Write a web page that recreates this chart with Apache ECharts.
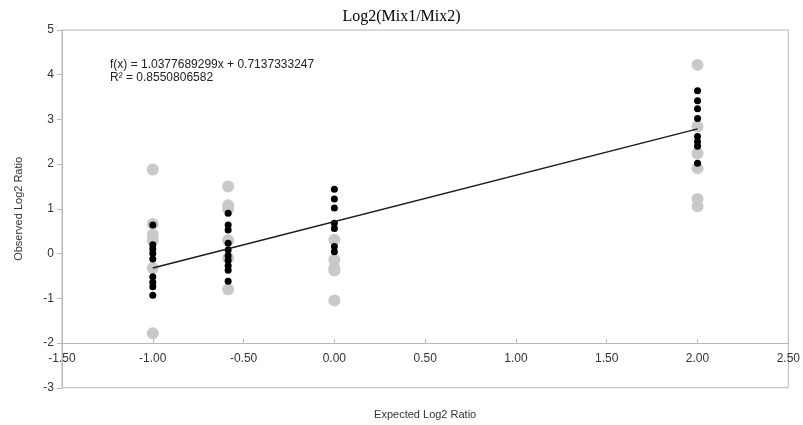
<!DOCTYPE html>
<html>
<head>
<meta charset="utf-8">
</head>
<body style="margin:0; background:#ffffff;">
<div id="container" style="width:803px; height:425px;"></div>
<script src="https://cdn.jsdelivr.net/npm/echarts@6/dist/echarts.min.js"></script>
<script>
// expected log2 ratio of each spike-in group
var expected = [-1.0, -0.585, 0.0, 2.0];
// observed log2 ratios, light grey points (one list per group)
var greyObs = [
    [1.88, 0.66, 0.42, 0.30, -0.32, -1.78],
    [1.50, 1.08, 1.00, 0.30, -0.10, -0.80],
    [0.31, -0.14, -0.33, -0.38, -1.05],
    [4.22, 2.84, 2.24, 1.91, 1.22, 1.06]
];
// observed log2 ratios, black points
var blackObs = [
    [0.64, 0.20, 0.10, 0.00, -0.12, -0.52, -0.64, -0.74, -0.93],
    [0.90, 0.64, 0.53, 0.23, 0.08, -0.05, -0.15, -0.27, -0.37, -0.62],
    [1.44, 1.22, 1.02, 0.68, 0.56, 0.16, 0.04],
    [3.64, 3.42, 3.24, 3.02, 2.62, 2.50, 2.40, 2.02]
];
// linear trend line
var slope = 1.0377689299;
var intercept = 0.7137333247;
var rSquared = '0.8550806582';
var trendRange = [-1.0, 2.0];

function toPoints(groups) {
    var pts = [];
    groups.forEach(function (ys, i) {
        ys.forEach(function (y) { pts.push([expected[i], y]); });
    });
    return pts;
}

var trendData = trendRange.map(function (x) { return [x, slope * x + intercept]; });

var chart = echarts.init(document.getElementById('container'), null, { renderer: 'canvas' });
var txt = '#333333';
var lineGrey = '#b8b8b8';

var option = {
    animation: false,
    title: {
        text: 'Log2(Mix1/Mix2)',
        left: 'center',
        top: 4,
        textStyle: { fontFamily: 'Liberation Serif', fontSize: 16, fontWeight: 'normal', color: '#000' }
    },
    graphic: [{
        type: 'text',
        left: 110,
        top: 58,
        style: {
            text: 'f(x) = ' + slope + 'x + ' + intercept + '\nR² = ' + rSquared,
            fontFamily: 'Liberation Sans',
            fontSize: 12,
            lineHeight: 13,
            fill: '#222'
        }
    }],
    grid: {
        left: 62, right: 12, top: 30, bottom: 37,
        show: true, borderColor: lineGrey, borderWidth: 1
    },
    xAxis: {
        type: 'value',
        min: -1.5, max: 2.5, interval: 0.5,
        offset: -44.75,
        name: 'Expected Log2 Ratio',
        nameLocation: 'middle',
        nameGap: 66,
        nameTextStyle: { fontFamily: 'Liberation Sans', fontSize: 11, color: txt },
        axisLine: { onZero: false, lineStyle: { color: lineGrey } },
        axisTick: { inside: true, length: 4, lineStyle: { color: lineGrey } },
        axisLabel: {
            fontFamily: 'Liberation Sans', fontSize: 12, color: txt, margin: 10,
            formatter: function (v) { return v.toFixed(2); }
        },
        splitLine: { show: false }
    },
    yAxis: {
        type: 'value',
        min: -3, max: 5, interval: 1,
        name: 'Observed Log2 Ratio',
        nameLocation: 'middle',
        nameGap: 38,
        nameTextStyle: { fontFamily: 'Liberation Sans', fontSize: 11, color: txt },
        axisLine: { show: true, onZero: false, lineStyle: { color: lineGrey } },
        axisTick: { show: true, length: 5, lineStyle: { color: lineGrey } },
        axisLabel: { fontFamily: 'Liberation Sans', fontSize: 12, color: txt, margin: 8 },
        splitLine: { show: false }
    },
    series: [{
        type: 'scatter',
        data: toPoints(greyObs),
        symbolSize: 12,
        itemStyle: { color: '#c9c9c9', opacity: 1 },
        z: 2
    }, {
        type: 'scatter',
        data: toPoints(blackObs),
        symbolSize: 7,
        itemStyle: { color: '#000000', opacity: 1 },
        z: 3
    }, {
        type: 'line',
        data: trendData,
        symbol: 'none',
        lineStyle: { color: '#1a1a1a', width: 1.5 },
        z: 4
    }]
};

chart.setOption(option);
window.addEventListener('resize', chart.resize);
</script>
</body>
</html>
